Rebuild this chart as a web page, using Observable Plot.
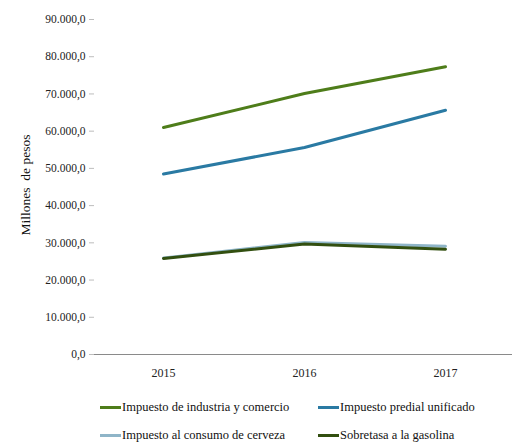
<!DOCTYPE html>
<html><head><meta charset="utf-8">
<script src="https://cdn.jsdelivr.net/npm/d3@7"></script>
<script src="https://cdn.jsdelivr.net/npm/@observablehq/plot@0.6"></script>
<style>
body{margin:0;background:#fff;font-family:"Liberation Serif","DejaVu Serif",serif;}
#wrap{position:relative;width:512px;height:445px;}
.leg{position:absolute;font-size:12.5px;color:#111;display:flex;align-items:center;white-space:nowrap;}
.leg span.sw{display:inline-block;width:21px;height:3px;margin-right:1px;}
</style></head>
<body><div id="wrap"></div>
<script>
const years = ["2015","2016","2017"];
const seriesNames = ["Impuesto de industria y comercio","Impuesto predial unificado","Impuesto al consumo de cerveza","Sobretasa a la gasolina"];
const industria = [61000, 70100, 77300];
const predial = [48500, 55600, 65600];
const cerveza = [25900, 30100, 29100];
const gasolina = [25800, 29700, 28300];
const colors = ["#4e7d1a","#2a7aa3","#8fb5c8","#324f10"];
const yTicks = [0,10000,20000,30000,40000,50000,60000,70000,80000,90000];

const allSeries = [industria, predial, cerveza, gasolina];
const data = [];
allSeries.forEach((vals, i) => vals.forEach((v, j) => data.push({serie: seriesNames[i], year: years[j], value: v})));

const loc = d3.formatLocale({decimal: ",", thousands: ".", grouping: [3], currency: ["", ""]});
const fmt = loc.format(",.1f");
const FF = "'Liberation Serif', 'DejaVu Serif', serif";

const plot = Plot.plot({
  width: 512, height: 385,
  marginLeft: 94, marginRight: 0, marginTop: 19, marginBottom: 31,
  style: {fontFamily: FF, fontSize: "12px", color: "#222", background: "white"},
  x: {type: "point", domain: years, range: [163, 445], padding: 0, label: null},
  y: {domain: [0, 90000], label: null},
  color: {domain: seriesNames, range: colors},
  marks: [
    Plot.ruleX([0], {x: () => null, frameAnchor: "left", y1: 0, y2: 90000, stroke: "#bdbdbd", strokeWidth: 1.5}),
    Plot.axisY({ticks: yTicks, tickFormat: fmt, tickSize: 5, tickPadding: 4, stroke: "#bdbdbd", fontSize: 11.5, color: "#222"}),
    Plot.axisX({tickSize: 0, tickPadding: 14, fontSize: 12}),
    Plot.ruleY([0], {stroke: "#8a8a8a", strokeWidth: 1.2}),
    Plot.lineY(data, {x: "year", y: "value", z: "serie", stroke: "serie", strokeWidth: 3, strokeLinejoin: "round"}),
    Plot.text(["Millones  de pesos"], {frameAnchor: "left", textAnchor: "middle", dx: -69, dy: -2, rotate: -90, fontSize: 13.5, fill: "#111"})
  ]
});
const wrap = document.getElementById("wrap");
wrap.appendChild(plot);

const pos = [[100, 409], [318, 409], [100, 437], [318, 437]];
seriesNames.forEach((n, i) => {
  const d = document.createElement("div");
  d.className = "leg";
  d.style.left = pos[i][0] + "px";
  d.style.top = (pos[i][1] - 9) + "px";
  d.innerHTML = `<span class="sw" style="background:${colors[i]}"></span>${n}`;
  wrap.appendChild(d);
});
</script></body></html>
